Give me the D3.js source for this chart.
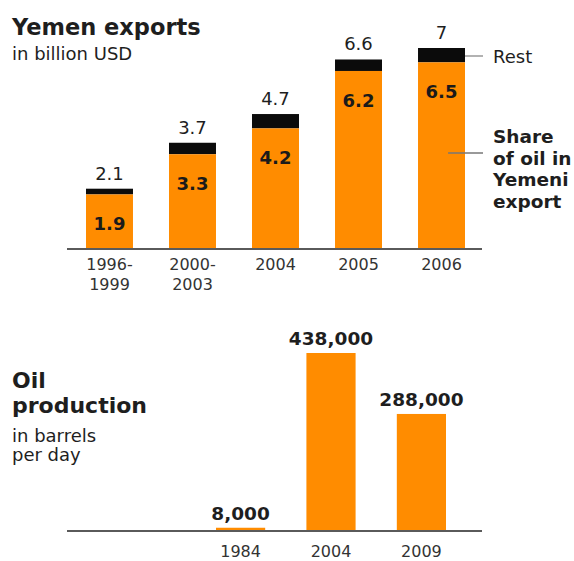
<!DOCTYPE html>
<html><head><meta charset="utf-8">
<script src="https://cdn.jsdelivr.net/npm/d3@7"></script>
<style>
html,body{margin:0;padding:0;background:#fff;}
svg{display:block;font-family:"DejaVu Sans",Verdana,sans-serif;}
</style></head>
<body>
<svg id="chart" width="574" height="561"></svg>
<script>
// ---- Data ----
const exportCategories = [["1996-","1999"],["2000-","2003"],["2004"],["2005"],["2006"]];
const exportKeys = ["1996-1999","2000-2003","2004","2005","2006"];
const exportTotal = [2.1, 3.7, 4.7, 6.6, 7];
const exportOil = [1.9, 3.3, 4.2, 6.2, 6.5];
const prodCategories = ["1984","2004","2009"];
const prodValues = [8000, 438000, 288000];
const prodLabels = ["8,000","438,000","288,000"];

const orange = "#FF8C00", black = "#0b0b0b", axisCol = "#5a5a5a", txt = "#1e1e1e";
const svg = d3.select("#chart");

// ---- Top chart ----
const x1 = d3.scaleBand().domain(exportKeys).range([86, 465]).paddingInner(0.434).paddingOuter(0);
const y1 = d3.scaleLinear().domain([0, 7]).range([249, 48]);

svg.append("text").attr("x", 12).attr("y", 35).attr("font-size", 22.5).attr("font-weight", "bold").attr("fill", txt).text("Yemen exports");
svg.append("text").attr("x", 12).attr("y", 60).attr("font-size", 18).attr("fill", txt).text("in billion USD");

const g1 = svg.append("g");
exportKeys.forEach((k, i) => {
  const xb = x1(k), w = x1.bandwidth();
  g1.append("rect").attr("x", xb).attr("y", y1(exportTotal[i])).attr("width", w)
    .attr("height", y1(exportOil[i]) - y1(exportTotal[i])).attr("fill", black);
  g1.append("rect").attr("x", xb).attr("y", y1(exportOil[i])).attr("width", w)
    .attr("height", y1(0) - y1(exportOil[i])).attr("fill", orange);
  g1.append("text").attr("x", xb + w / 2).attr("y", y1(exportTotal[i]) - 9).attr("text-anchor", "middle")
    .attr("font-size", 18).attr("fill", txt).text(exportTotal[i]);
  g1.append("text").attr("x", xb + w / 2).attr("y", y1(exportOil[i]) + 36).attr("text-anchor", "middle")
    .attr("font-size", 18).attr("font-weight", "bold").attr("fill", "#1a1a1a").text(exportOil[i]);
  exportCategories[i].forEach((line, j) => {
    g1.append("text").attr("x", xb + w / 2).attr("y", 270 + j * 20).attr("text-anchor", "middle")
      .attr("font-size", 16).attr("fill", "#333").text(line);
  });
});
g1.append("line").attr("x1", 67).attr("x2", 482).attr("y1", y1(0)).attr("y2", y1(0)).attr("stroke", axisCol).attr("stroke-width", 2.2);

// legend
const last = exportKeys.length - 1;
const lx = x1(exportKeys[last]) + x1.bandwidth();
svg.append("line").attr("x1", lx).attr("x2", 483).attr("y1", 56).attr("y2", 56).attr("stroke", "#888").attr("stroke-width", 1.3);
svg.append("text").attr("x", 493).attr("y", 63).attr("font-size", 18).attr("fill", txt).text("Rest");
svg.append("line").attr("x1", x1(exportKeys[last]) + x1.bandwidth() * 0.64).attr("x2", 483).attr("y1", 153).attr("y2", 153)
  .attr("stroke", "#777").attr("stroke-width", 1.3);
["Share", "of oil in", "Yemeni", "export"].forEach((t, j) => {
  svg.append("text").attr("x", 493).attr("y", 143 + j * 21.5).attr("font-size", 18.5).attr("font-weight", "bold").attr("fill", txt).text(t);
});

// ---- Bottom chart ----
const x2 = d3.scaleBand().domain(prodCategories).range([216, 446]).paddingInner(0.456).paddingOuter(0);
const y2 = d3.scaleLinear().domain([0, 438000]).range([531, 353]);

svg.append("text").attr("x", 12).attr("y", 388).attr("font-size", 22).attr("font-weight", "bold").attr("fill", txt).text("Oil");
svg.append("text").attr("x", 12).attr("y", 413).attr("font-size", 22).attr("font-weight", "bold").attr("fill", txt).text("production");
svg.append("text").attr("x", 12).attr("y", 442).attr("font-size", 18).attr("fill", txt).text("in barrels");
svg.append("text").attr("x", 12).attr("y", 461).attr("font-size", 18).attr("fill", txt).text("per day");

const g2 = svg.append("g");
prodCategories.forEach((c, i) => {
  const xb = x2(c), w = x2.bandwidth();
  g2.append("rect").attr("x", xb).attr("y", y2(prodValues[i])).attr("width", w)
    .attr("height", y2(0) - y2(prodValues[i])).attr("fill", orange);
  g2.append("text").attr("x", xb + w / 2).attr("y", y2(prodValues[i]) - 8).attr("text-anchor", "middle")
    .attr("font-size", 18.5).attr("font-weight", "bold").attr("fill", txt).text(prodLabels[i]);
  g2.append("text").attr("x", xb + w / 2).attr("y", 557).attr("text-anchor", "middle")
    .attr("font-size", 16).attr("fill", "#333").text(c);
});
g2.append("line").attr("x1", 67).attr("x2", 482).attr("y1", y2(0)).attr("y2", y2(0)).attr("stroke", axisCol).attr("stroke-width", 2.2);
</script>
</body></html>
